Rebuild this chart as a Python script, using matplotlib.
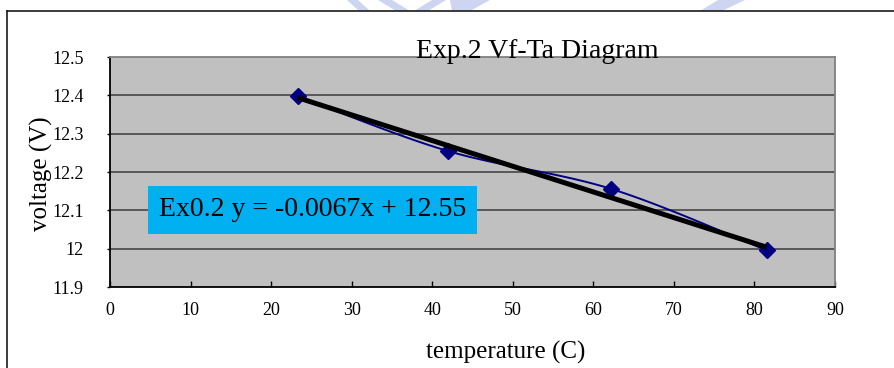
import numpy as np
import matplotlib.pyplot as plt
from matplotlib.patches import Rectangle, Polygon, Wedge

# measured forward voltage against ambient temperature
temperature = [23.3, 41.9, 62.2, 81.5]
voltage = [12.398, 12.255, 12.156, 11.996]

# linear trend reported on the chart
slope = -0.0067
intercept = 12.55

x_ticks = [0, 10, 20, 30, 40, 50, 60, 70, 80, 90]
y_ticks = [11.9, 12.0, 12.1, 12.2, 12.3, 12.4, 12.5]
y_tick_labels = ['11.9', '12', '12.1', '12.2', '12.3', '12.4', '12.5']

W, H = 895, 368


def fx(px):
    return px / W


def fy(py):
    return 1 - py / H


def catmull_rom(xs, ys, n=30):
    """Smoothed line through the points, similar to a spreadsheet 'smoothed line'."""
    p = np.column_stack([xs, ys])
    p = np.vstack([p[0], p, p[-1]])
    out = []
    for i in range(1, len(p) - 2):
        p0, p1, p2, p3 = p[i - 1], p[i], p[i + 1], p[i + 2]
        t = np.linspace(0, 1, n)[:, None]
        seg = 0.5 * ((2 * p1) + (-p0 + p2) * t
                     + (2 * p0 - 5 * p1 + 4 * p2 - p3) * t ** 2
                     + (-p0 + 3 * p1 - 3 * p2 + p3) * t ** 3)
        out.append(seg)
    return np.vstack(out)


plt.rcParams['font.family'] = 'Liberation Serif'

fig = plt.figure(figsize=(W / 100, H / 100), dpi=100)
fig.patch.set_facecolor('white')

# faint watermark showing above the chart frame
clip = Rectangle((0, fy(11)), 1, 11 / H, transform=fig.transFigure)
wm_color = '#cdd5f0'
ring = Wedge((fx(575), fy(-640)), 655 / W, 0, 360, width=7 / W,
             transform=fig.transFigure, color=wm_color, lw=0)
bars = [
    [(347, 0), (358, 0), (370, 11), (359, 11)],
    [(378, 0), (392, 0), (410, 11), (396, 11)],
    [(432, 0), (446, 0), (428, 11), (414, 11)],
    [(450, 0), (490, 0), (470, 11), (452, 11)],
    [(718, 0), (745, 0), (722, 11), (700, 11)],
]
for pts in bars:
    poly = Polygon([(fx(a), fy(b)) for a, b in pts], closed=True,
                   transform=fig.transFigure, color=wm_color, lw=0)
    fig.add_artist(poly)
    poly.set_clip_path(clip)
fig.add_artist(ring)
ring.set_clip_path(clip)

# chart frame
fig.add_artist(plt.Line2D([fx(7), 1], [fy(11), fy(11)], transform=fig.transFigure,
                          color='#1a1a1a', lw=1.2))
fig.add_artist(plt.Line2D([fx(7), fx(7)], [0, fy(11)], transform=fig.transFigure,
                          color='#1a1a1a', lw=1.2))

ax = fig.add_axes([fx(110), 1 - 287 / H, (835 - 110) / W, (287 - 57) / H])
ax.set_facecolor('#c0c0c0')
ax.set_xlim(0, 90)
ax.set_ylim(11.9, 12.5)

for yv in y_ticks[1:-1]:
    ax.axhline(yv, color='#3c3c3c', lw=1.1, zorder=1)

ax.spines['left'].set_color('black')
ax.spines['bottom'].set_color('black')
ax.spines['top'].set_color('#808080')
ax.spines['right'].set_color('#808080')
for s in ax.spines.values():
    s.set_linewidth(1.3)

ax.set_xticks(x_ticks)
ax.set_yticks(y_ticks)
ax.set_yticklabels(y_tick_labels)
ax.tick_params(axis='x', direction='in', length=4, width=1, pad=11, labelsize=13)
ax.tick_params(axis='y', direction='out', length=2, width=1, pad=17, labelsize=13)

# smoothed data line with diamond markers
curve = catmull_rom(np.array(temperature) / 90.0, np.array(voltage) / 0.6)
ax.plot(curve[:, 0] * 90.0, curve[:, 1] * 0.6, color='#000080', lw=1.4, zorder=3)
ax.plot(temperature, voltage, ls='none', marker='D', ms=8, color='#000080', zorder=4)

# linear trend between the first and last measurement
tx = np.array([min(temperature), max(temperature)])
ax.plot(tx, slope * tx + intercept, color='black', lw=3.6, solid_capstyle='butt', zorder=5)

ax.text(0.0676, 0.335, f'Ex0.2 y = {slope}x + {intercept}', transform=ax.transAxes,
        fontsize=20, va='center', ha='left', zorder=6,
        bbox=dict(boxstyle='square,pad=0.4', facecolor='#00b0f0', edgecolor='none'))

fig.text(fx(537), fy(51), 'Exp.2 Vf-Ta Diagram', fontsize=20, ha='center', va='center')
fig.text(fx(506), fy(352), 'temperature (C)', fontsize=18, ha='center', va='center')
fig.text(fx(41), fy(174), 'voltage (V)', fontsize=18, ha='center', va='center', rotation=90)

fig.savefig('out.png', dpi=100)
